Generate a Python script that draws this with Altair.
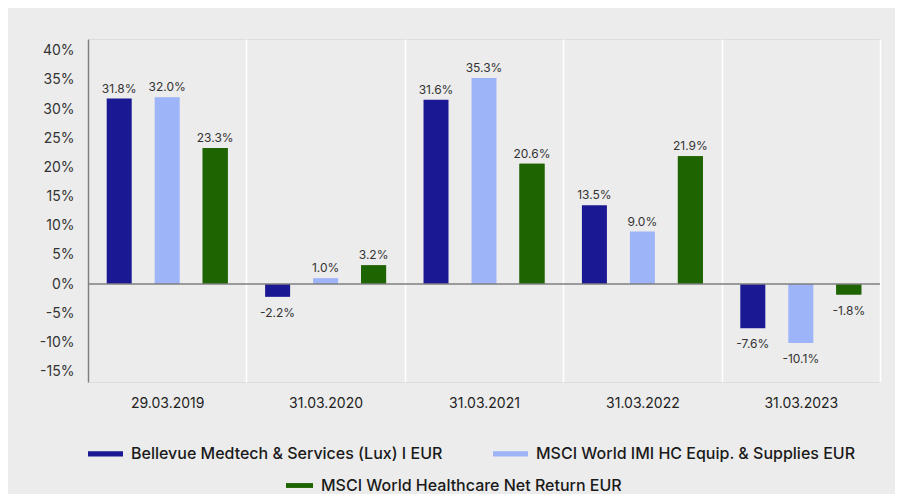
import altair as alt
import pandas as pd

dates = ["29.03.2019", "31.03.2020", "31.03.2021", "31.03.2022", "31.03.2023"]
series = [
    "Bellevue Medtech & Services (Lux) I EUR",
    "MSCI World IMI HC Equip. & Supplies EUR",
    "MSCI World Healthcare Net Return EUR",
]
fund = [31.8, -2.2, 31.6, 13.5, -7.6]
imi = [32.0, 1.0, 35.3, 9.0, -10.1]
hc = [23.3, 3.2, 20.6, 21.9, -1.8]
colors = ["#1b1894", "#9db4f9", "#1e6400"]
y_ticks = [-15, -10, -5, 0, 5, 10, 15, 20, 25, 30, 35, 40]

rows = []
for s, vals in zip(series, [fund, imi, hc]):
    for d, v in zip(dates, vals):
        rows.append({"date": d, "series": s, "series2": s, "value": v, "label": f"{v:.1f}%"})
df = pd.DataFrame(rows)

sym1 = "M-1,-0.15H1V0.15H-1Z"
sym2 = "M-1,-0.18H1V0.18H-1Z"

base = alt.Chart(df).encode(
    x=alt.X(
        "date:N", sort=dates, title=None,
        scale=alt.Scale(paddingInner=0, paddingOuter=0),
        axis=alt.Axis(labelAngle=0, domain=False, ticks=False, grid=True,
                      gridColor="#ffffff", gridWidth=1.5, tickBand="extent",
                      labelPadding=14, labelFontSize=14, labelColor="#222222"),
    ),
    xOffset=alt.XOffset("series:N", sort=series,
                        scale=alt.Scale(paddingInner=0.479, paddingOuter=0.39)),
    y=alt.Y(
        "value:Q", title=None,
        scale=alt.Scale(domain=[-16.8, 42], nice=False, zero=False),
        axis=alt.Axis(values=y_ticks, tickCount=len(y_ticks),
                      labelExpr="datum.value + '%'", grid=False,
                      ticks=False, domainColor="#7f7f7f", domainWidth=1.5,
                      labelOverlap=False, labelPadding=14, labelFontSize=14,
                      labelColor="#333333"),
    ),
)

bars = base.mark_bar().encode(
    color=alt.Color(
        "series:N", sort=series,
        scale=alt.Scale(domain=series, range=colors),
        legend=alt.Legend(values=series[:2], orient="none", legendX=0, legendY=397,
                          direction="horizontal", title=None, symbolType=sym1,
                          symbolSize=1225, symbolStrokeWidth=0, labelOffset=8,
                          columnPadding=50, labelFontSize=16, labelFont="Inter",
                          labelFontWeight=500, labelColor="#1a1a1a", labelLimit=600),
    )
)

bars3 = base.transform_filter(alt.datum.series == series[2]).mark_bar(
    color=colors[2], strokeWidth=0
).encode(
    stroke=alt.Stroke(
        "series2:N",
        scale=alt.Scale(domain=[series[2]], range=[colors[2]]),
        legend=alt.Legend(orient="none", legendX=198, legendY=433,
                          direction="horizontal", title=None, symbolType=sym2,
                          symbolSize=729, symbolStrokeWidth=0,
                          symbolFillColor=colors[2], labelOffset=8,
                          labelFontSize=16, labelFont="Inter",
                          labelFontWeight=500, labelColor="#1a1a1a", labelLimit=600),
    )
)

pos_text = base.transform_filter(alt.datum.value >= 0).mark_text(
    dy=-10, fontSize=12, color="#333333", baseline="middle"
).encode(text="label:N")

neg_text = base.transform_filter(alt.datum.value < 0).mark_text(
    dy=16, fontSize=12, color="#333333", baseline="middle"
).encode(text="label:N")

zero = alt.Chart(pd.DataFrame({"z": [0]})).mark_rule(
    color="#7f7f7f", strokeWidth=1.5
).encode(y=alt.datum(0))

chart = alt.layer(bars, bars3, zero, pos_text, neg_text).properties(
    width=792, height=343,
    autosize=alt.AutoSizeParams(type="none"),
    padding={"left": 80, "top": 31, "right": 15, "bottom": 112},
    background="#ececec",
).configure_view(stroke=None).configure(font="Inter")

chart.save("out.html", embed_options={"renderer": "svg", "actions": False})
